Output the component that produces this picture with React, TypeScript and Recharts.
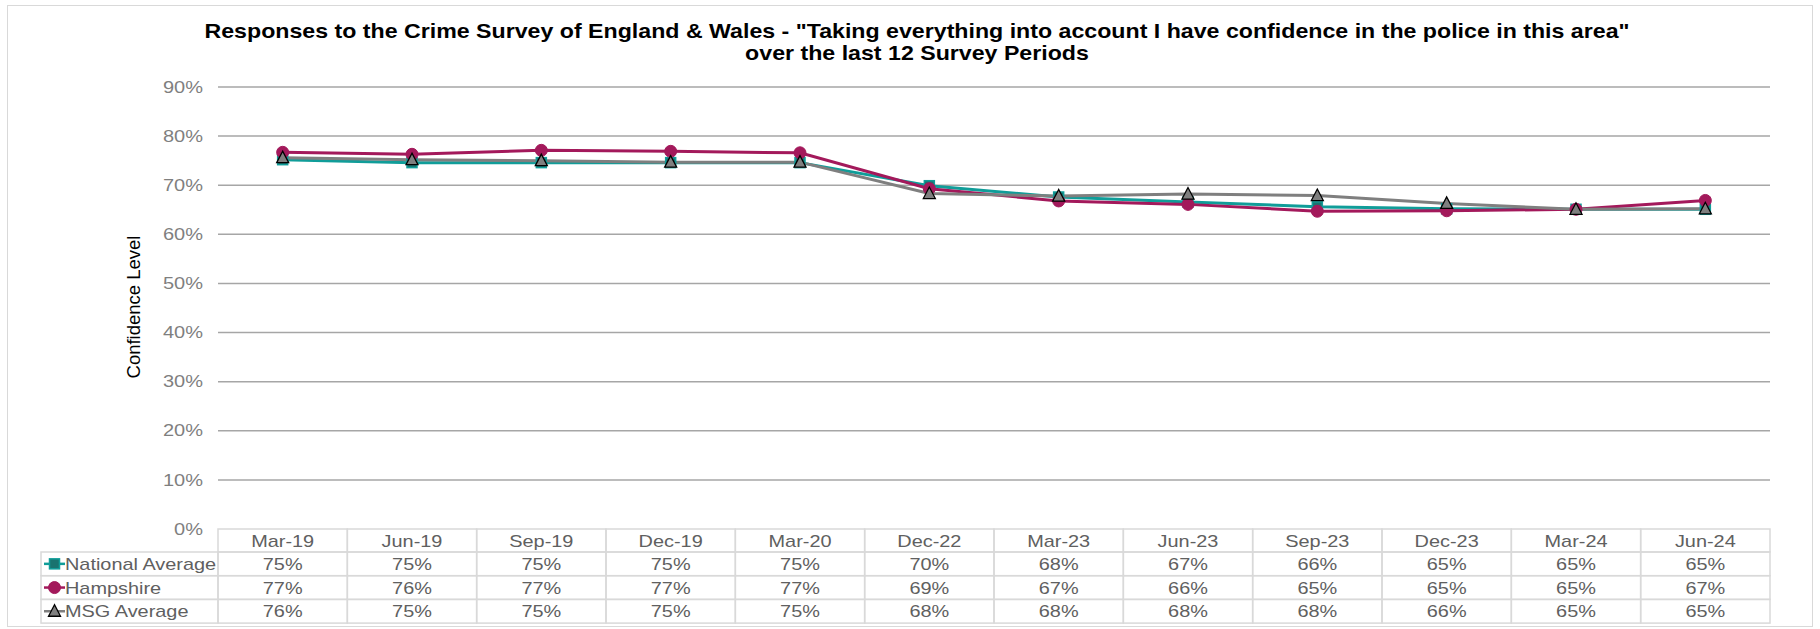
import { CartesianGrid, Line, LineChart, XAxis, YAxis } from "recharts";

const periods = [
  "Mar-19", "Jun-19", "Sep-19", "Dec-19", "Mar-20", "Dec-22",
  "Mar-23", "Jun-23", "Sep-23", "Dec-23", "Mar-24", "Jun-24",
];
const nationalAverage = [75.2, 74.6, 74.6, 74.6, 74.6, 69.9, 67.6, 66.6, 65.6, 65.2, 65.1, 65.1];
const hampshire = [76.7, 76.3, 77.1, 76.9, 76.6, 69.3, 66.8, 66.1, 64.7, 64.8, 65.1, 66.9];
const msgAverage = [75.6, 75.2, 75.0, 74.7, 74.7, 68.3, 67.8, 68.2, 67.9, 66.3, 65.1, 65.2];
const yTicks = [0, 10, 20, 30, 40, 50, 60, 70, 80, 90];

const titleLines = [
  'Responses to the Crime Survey of England & Wales - "Taking everything into account I have confidence in the police in this area"',
  "over the last 12 Survey Periods",
];

type Shape = "square" | "circle" | "triangle";
const series: { key: string; name: string; values: number[]; color: string; shape: Shape }[] = [
  { key: "national", name: "National Average", values: nationalAverage, color: "#109D99", shape: "square" },
  { key: "hampshire", name: "Hampshire", values: hampshire, color: "#A3195B", shape: "circle" },
  { key: "msg", name: "MSG Average", values: msgAverage, color: "#7F7F7F", shape: "triangle" },
];

const data = periods.map((p, i) => {
  const row: Record<string, string | number> = { period: p };
  series.forEach((s) => (row[s.key] = s.values[i]));
  return row;
});

const W = 1820;
const H = 629;
const PLOT_LEFT = 218;
const PLOT_RIGHT = 1770;
const PLOT_TOP = 87;
const PLOT_BOTTOM = 529;
const COL = (PLOT_RIGHT - PLOT_LEFT) / periods.length;
const HEAD_H = 23;
const ROW_H = 23.7;
const TABLE_LEFT = 41;
const GRID_TABLE = "#D9D9D9";
const FONT = '"Liberation Sans", Arial, sans-serif';
const TEXT = "#606060";
// the source picture is a little wider than tall, so its text is stretched
const STRETCH = 1.13;
const TABLE_STRETCH = 1.17;

const marker = (shape: Shape, cx: number, cy: number, color: string, key?: string | number) => {
  if (shape === "square") {
    return <rect key={key} x={cx - 5} y={cy - 5} width={10} height={10} fill="#1A736F" stroke={color} strokeWidth={1.5} />;
  }
  if (shape === "circle") {
    return <circle key={key} cx={cx} cy={cy} r={6} fill={color} stroke={color} />;
  }
  return (
    <polygon
      key={key}
      points={`${cx},${cy - 6.5} ${cx - 6},${cy + 5} ${cx + 6},${cy + 5}`}
      fill={color}
      stroke="#000"
      strokeWidth={1.3}
    />
  );
};

const SText = (props: {
  x: number;
  y: number;
  anchor?: "start" | "middle" | "end";
  size?: number;
  fill?: string;
  sx?: number;
  children: any;
}) => (
  <g transform={`translate(${props.x},${props.y}) scale(${props.sx ?? TABLE_STRETCH},1)`}>
    <text
      x={0}
      y={0}
      dy="0.355em"
      textAnchor={props.anchor ?? "middle"}
      fontSize={props.size ?? 17}
      fill={props.fill ?? TEXT}
      fontFamily={FONT}
    >
      {props.children}
    </text>
  </g>
);

const TableTick = (props: any) => {
  const { x, y, payload } = props;
  const i = payload.index;
  const left = x - COL / 2;
  return (
    <g>
      <rect x={left} y={y} width={COL} height={HEAD_H} fill="none" stroke={GRID_TABLE} strokeWidth={1.5} />
      <SText x={x} y={y + HEAD_H / 2}>{payload.value}</SText>
      {series.map((s, r) => {
        const top = y + HEAD_H + r * ROW_H;
        return (
          <g key={s.key}>
            <rect x={left} y={top} width={COL} height={ROW_H} fill="none" stroke={GRID_TABLE} strokeWidth={1.5} />
            <SText x={x} y={top + ROW_H / 2}>{Math.round(s.values[i])}%</SText>
          </g>
        );
      })}
      {i === 0 &&
        series.map((s, r) => {
          const top = y + HEAD_H + r * ROW_H;
          const cy = top + ROW_H / 2;
          return (
            <g key={"leg" + s.key}>
              <rect x={TABLE_LEFT} y={top} width={left - TABLE_LEFT} height={ROW_H} fill="none" stroke={GRID_TABLE} strokeWidth={1.5} />
              <line x1={TABLE_LEFT + 3} x2={TABLE_LEFT + 24} y1={cy} y2={cy} stroke={s.color} strokeWidth={2.5} />
              {marker(s.shape, TABLE_LEFT + 13.5, cy, s.color)}
              <SText x={TABLE_LEFT + 24} y={cy} anchor="start">{s.name}</SText>
            </g>
          );
        })}
    </g>
  );
};

const YTick = (props: any) => {
  const { x, y, payload } = props;
  return (
    <SText x={x} y={y} anchor="end" size={16} fill="#7F7F7F" sx={1.25}>
      {payload.value}%
    </SText>
  );
};

export default function App() {
  return (
    <div style={{ position: "absolute", left: 0, top: 0, width: W, height: H, background: "#fff", fontFamily: FONT }}>
      <div
        style={{
          position: "absolute",
          left: 7,
          top: 5,
          width: 1806,
          height: 622,
          border: "1.5px solid #D9D9D9",
          boxSizing: "border-box",
        }}
      />
      <div
        style={{
          position: "absolute",
          left: 917,
          top: 19.5,
          transform: `translateX(-50%) scaleX(${STRETCH})`,
          whiteSpace: "nowrap",
          textAlign: "center",
          fontWeight: "bold",
          fontSize: 20.5,
          lineHeight: "22px",
          color: "#000",
        }}
      >
        {titleLines.map((t) => (
          <div key={t}>{t}</div>
        ))}
      </div>
      <div
        style={{
          position: "absolute",
          left: 134,
          top: 307,
          transform: "translate(-50%, -50%) rotate(-90deg)",
          whiteSpace: "nowrap",
          fontSize: 18.5,
          color: "#000",
        }}
      >
        Confidence Level
      </div>
      <div style={{ position: "absolute", left: 0, top: 0 }}>
        <LineChart
          width={W}
          height={H}
          data={data}
          margin={{ top: PLOT_TOP, right: W - PLOT_RIGHT, bottom: 0, left: 0 }}
        >
          <CartesianGrid
            vertical={false}
            stroke="#A6A6A6"
            strokeWidth={1.5}
            horizontalValues={yTicks.filter((v) => v > 0)}
          />
          <XAxis
            dataKey="period"
            height={H - PLOT_BOTTOM}
            padding={{ left: COL / 2, right: COL / 2 }}
            axisLine={false}
            tickLine={false}
            tickSize={0}
            tickMargin={0}
            interval={0}
            tick={<TableTick />}
          />
          <YAxis
            width={PLOT_LEFT}
            domain={[0, 90]}
            ticks={yTicks}
            axisLine={false}
            tickLine={false}
            tickMargin={9}
            tick={<YTick />}
          />
          {series.map((s) => (
            <Line
              key={s.key}
              dataKey={s.key}
              name={s.name}
              stroke={s.color}
              strokeWidth={3}
              isAnimationActive={false}
              dot={(p: any) => marker(s.shape, p.cx, p.cy, s.color, `${s.key}-${p.index}`)}
              activeDot={false}
            />
          ))}
        </LineChart>
      </div>
    </div>
  );
}
